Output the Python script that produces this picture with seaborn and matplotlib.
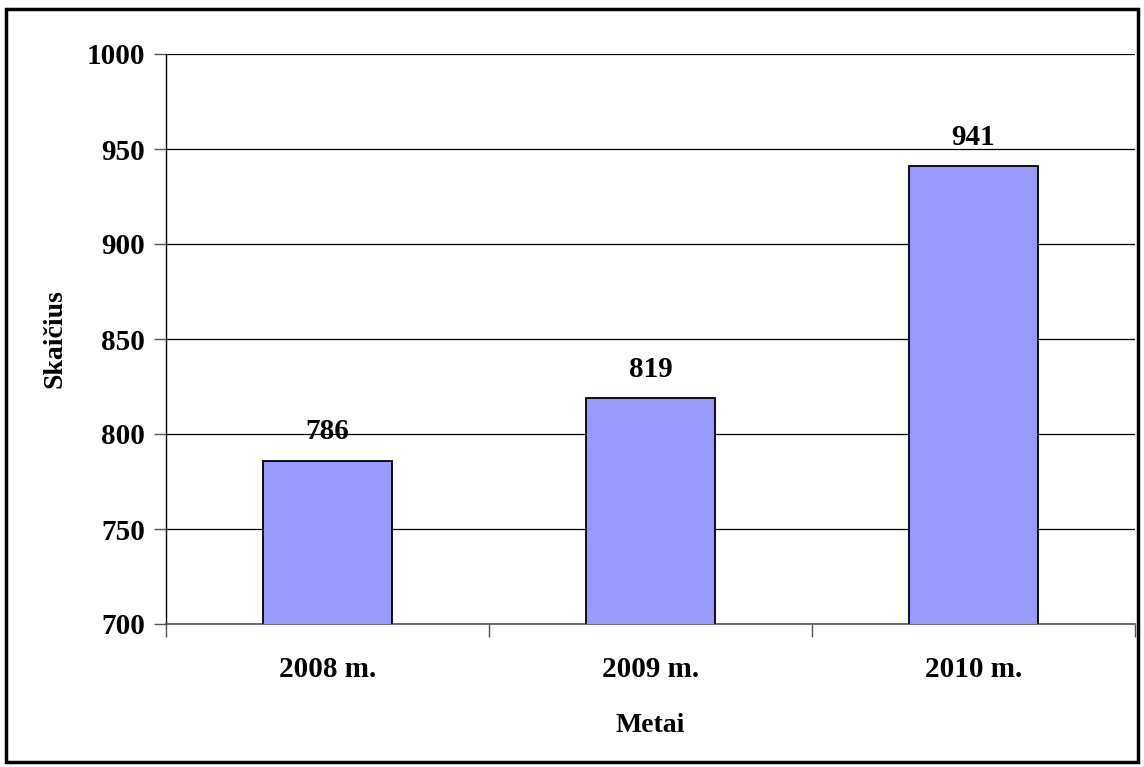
import matplotlib
matplotlib.use("Agg")
import matplotlib.pyplot as plt
import seaborn as sns
import pandas as pd
from matplotlib.patches import Rectangle

categories = ["2008 m.", "2009 m.", "2010 m."]
values = [786, 819, 941]
yticks = [700, 750, 800, 850, 900, 950, 1000]

sns.set_theme(style="white")
plt.rcParams['font.family'] = ['Liberation Serif', 'DejaVu Serif']
plt.rcParams['font.weight'] = 'bold'
plt.rcParams['text.color'] = 'black'
plt.rcParams['axes.labelcolor'] = 'black'
plt.rcParams['xtick.color'] = 'black'
plt.rcParams['ytick.color'] = 'black'

W, H = 1144, 767
fig = plt.figure(figsize=(W / 100, H / 100), dpi=100)
ax = fig.add_axes([166 / W, 1 - 624 / H, (1135 - 166) / W, (624 - 54) / H])

df = pd.DataFrame({"cat": categories, "val": values})
sns.barplot(data=df, x="cat", y="val", ax=ax, color="#9999FF", width=0.4,
            edgecolor="black", linewidth=1.3, saturation=1, zorder=3)

ax.set_ylim(700, 1000)
ax.set_xlim(-0.5, 2.5)
ax.set_yticks(yticks)
ax.set_yticklabels([str(t) for t in yticks], fontsize=21, fontweight='bold', color='black')
ax.yaxis.grid(True, color="black", linewidth=0.9)
ax.set_axisbelow(True)

ax.set_xticks([-0.5, 0.5, 1.5, 2.5])
ax.set_xticklabels([])
ax.set_xticks([0, 1, 2], minor=True)
ax.set_xticklabels(categories, minor=True, fontsize=21, fontweight='bold', color='black')
ax.tick_params(axis='x', which='minor', length=0, pad=23)
ax.tick_params(axis='x', which='major', direction='out', length=9, width=1, color='#555555', bottom=True)
ax.tick_params(axis='y', direction='out', length=9, width=1, color='#555555', left=True, pad=6)

for s in ["top", "right"]:
    ax.spines[s].set_visible(False)
ax.spines["left"].set_color("black")
ax.spines["left"].set_linewidth(1)
ax.spines["bottom"].set_color("#555555")
ax.spines["bottom"].set_linewidth(1.2)

for i, v in enumerate(values):
    ax.text(i, v + 8, str(v), ha='center', va='bottom', fontsize=21, fontweight='bold', color='black')

ax.set_xlabel("Metai", fontsize=20, fontweight='bold', labelpad=22, color='black')
ax.set_ylabel("Skaičius", fontsize=20, fontweight='bold', labelpad=14, color='black')

fig.patches.append(Rectangle((6 / W, 1 - 762 / H), (1138 - 6) / W, (762 - 9) / H,
                             transform=fig.transFigure, fill=False,
                             edgecolor="black", linewidth=2.5))

fig.savefig("out.png", dpi=100)
